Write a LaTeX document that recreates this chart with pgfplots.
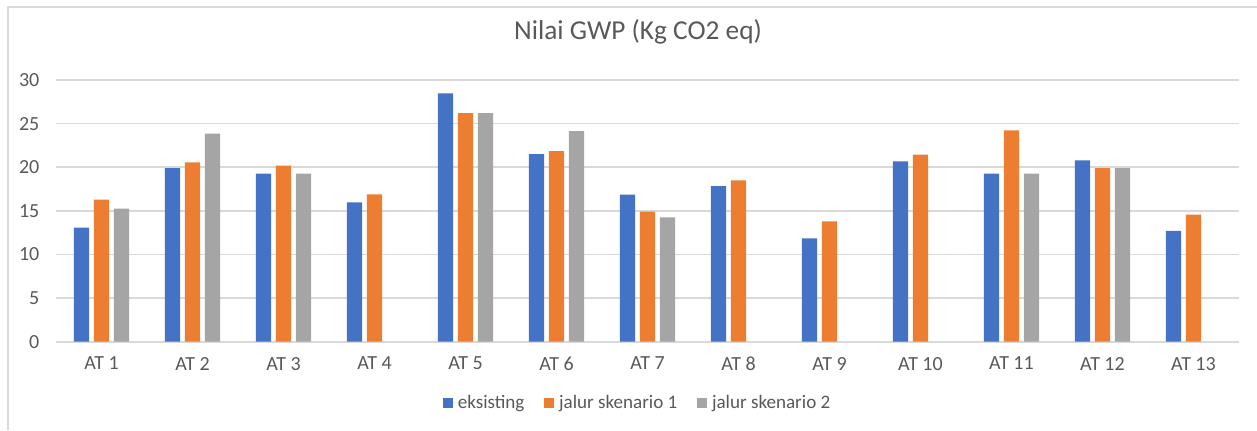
\documentclass[border=0pt]{standalone}
\usepackage{pgfplots}
\pgfplotsset{compat=1.18}
\usepackage{fontspec}
\setmainfont{Carlito}
\definecolor{cblue}{HTML}{4472C4}
\definecolor{corange}{HTML}{ED7D31}
\definecolor{cgray}{HTML}{A5A5A5}
\definecolor{txt}{HTML}{595959}
\definecolor{gridc}{HTML}{D9D9D9}
\begin{document}
\begin{tikzpicture}
\useasboundingbox (0,0) rectangle (942.75pt,322.5pt);
\draw[gridc, line width=1.1pt] (6pt,0pt) -- (6pt,317.25pt) -- (942.75pt,317.25pt);
\begin{axis}[
  at={(42pt,66.2pt)}, anchor=south west,
  scale only axis,
  width=887.25pt, height=196.3pt,
  ymin=0, ymax=30,
  xmin=-0.5, xmax=12.5,
  ytick={0,5,...,30},
  xtick={0,...,12},
  xticklabels={AT 1,AT 2,AT 3,AT 4,AT 5,AT 6,AT 7,AT 8,AT 9,AT 10,AT 11,AT 12,AT 13},
  major tick length=0pt,
  axis line style={draw=none},
  ymajorgrids,
  grid style={gridc, line width=1.2pt},
  ticklabel style={font=\fontsize{15}{17}\selectfont, text=txt},
  yticklabel style={xshift=-9pt},
  xticklabel style={yshift=-8pt},
  /pgf/number format/assume math mode=true,
  ybar, bar width=11.6pt,
  title={Nilai GWP (Kg CO2 eq)},
  title style={at={(0.492,1.153)}, anchor=center, font=\fontsize{20.5}{23}\selectfont, text=txt},
  legend columns=3,
  legend style={draw=none, at={(0.492,-0.234)}, anchor=center, font=\fontsize{14.3}{16}\selectfont, text=txt,
    /tikz/every even column/.append style={column sep=13pt}},
  legend image code/.code={\fill[#1] (0pt,-3.6pt) rectangle (7.2pt,3.6pt); \path (0pt,0pt) -- (9pt,0pt);},
]
\addplot[fill=cblue, draw=none, bar shift=-15pt] coordinates {
 (0,13.07) (1,19.9) (2,19.26) (3,15.97) (4,28.47) (5,21.5) (6,16.85) (7,17.85) (8,11.85) (9,20.67) (10,19.26) (11,20.79) (12,12.72)};
\addplot[fill=corange, draw=none, bar shift=0pt] coordinates {
 (0,16.3) (1,20.56) (2,20.2) (3,16.89) (4,26.2) (5,21.86) (6,14.9) (7,18.5) (8,13.8) (9,21.44) (10,24.23) (11,19.9) (12,14.56)};
\addplot[fill=cgray, draw=none, bar shift=15pt] coordinates {
 (0,15.25) (1,23.84) (2,19.26) (4,26.2) (5,24.15) (6,14.25) (10,19.26) (11,19.9)};
\legend{eksisting, jalur skenario 1, jalur skenario 2}
\end{axis}
\end{tikzpicture}
\end{document}
